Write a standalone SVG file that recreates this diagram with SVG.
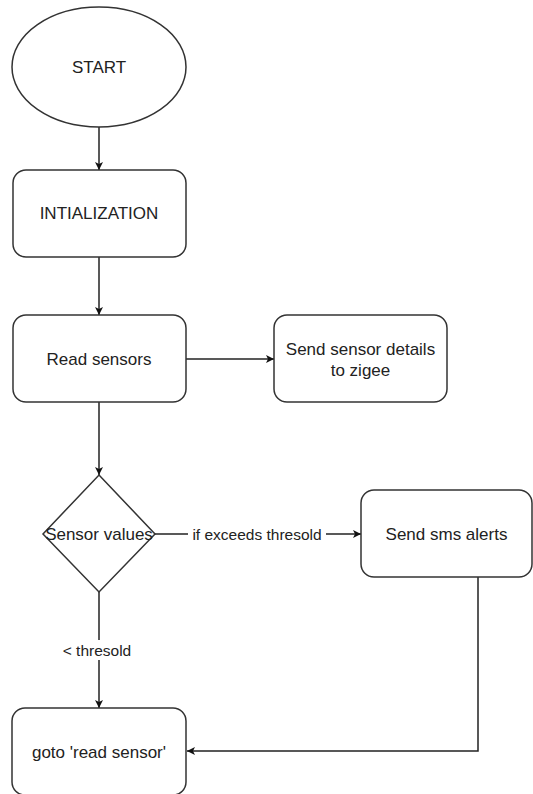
<svg xmlns="http://www.w3.org/2000/svg" width="533" height="794" viewBox="0 0 533 794">
<style>
.n{fill:#fff;stroke:#333;stroke-width:1.5}
.t{font-family:"Liberation Sans",Arial,sans-serif;font-size:17px;fill:#222;text-anchor:middle}
.l{font-family:"Liberation Sans",Arial,sans-serif;font-size:15.5px;fill:#222;text-anchor:middle}
.c{fill:none;stroke:#222;stroke-width:1.5}
</style>
<defs>
<marker id="ah" viewBox="0 0 10 10" refX="10" refY="5" markerWidth="8" markerHeight="8" markerUnits="userSpaceOnUse" orient="auto">
<path d="M0,0 L10,5 L0,10 L2.5,5 Z" fill="#111"/>
</marker>
</defs>
<g id="connectors">
<path class="c" d="M99,127 L99,170" marker-end="url(#ah)"/>
<path class="c" d="M99,257 L99,315" marker-end="url(#ah)"/>
<path class="c" d="M186,359 L274,359" marker-end="url(#ah)"/>
<path class="c" d="M99,402 L99,475" marker-end="url(#ah)"/>
<path class="c" d="M155,534 L361,534" marker-end="url(#ah)"/>
<path class="c" d="M99,592 L99,708" marker-end="url(#ah)"/>
<path class="c" d="M478,577 L478,751 L187,751" marker-end="url(#ah)"/>
<rect x="188" y="524" width="138" height="20" fill="#fff"/>
<text class="l" x="257" y="539.5">if exceeds thresold</text>
<rect x="61" y="640" width="74" height="20" fill="#fff"/>
<text class="l" x="97" y="655.5">&lt; thresold</text>
</g>
<g id="start">
<ellipse class="n" cx="99" cy="67" rx="87" ry="60"/>
<text class="t" x="99" y="73">START</text>
</g>
<g id="init">
<rect class="n" x="13" y="170" width="173" height="87" rx="13"/>
<text class="t" x="99" y="219">INTIALIZATION</text>
</g>
<g id="read">
<rect class="n" x="13" y="315" width="173" height="87" rx="13"/>
<text class="t" x="99" y="365">Read sensors</text>
</g>
<g id="zigbee">
<rect class="n" x="274" y="315" width="173" height="87" rx="13"/>
<text class="t" x="360.5" y="355">Send sensor details</text>
<text class="t" x="360.5" y="376">to zigee</text>
</g>
<g id="decision">
<path class="n" d="M99,475 L155,534 L99,592 L43,534 Z"/>
<text class="t" x="99" y="540">Sensor values</text>
</g>
<g id="sms">
<rect class="n" x="361" y="490" width="171" height="87" rx="13"/>
<text class="t" x="446.5" y="540">Send sms alerts</text>
</g>
<g id="goto">
<rect class="n" x="12" y="708" width="174" height="87" rx="13"/>
<text class="t" x="99" y="758">goto 'read sensor'</text>
</g>
</svg>
